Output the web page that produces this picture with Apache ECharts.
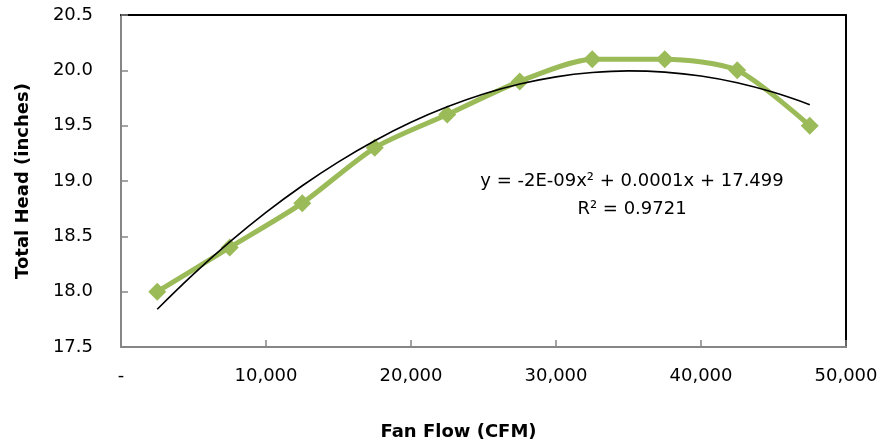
<!DOCTYPE html>
<html>
<head>
<meta charset="utf-8">
<script src="https://cdn.jsdelivr.net/npm/echarts@6/dist/echarts.min.js"></script>
<style>
html,body{margin:0;padding:0;background:#fff;}
#c{width:883px;height:447px;}
</style>
</head>
<body>
<div id="c"></div>
<script>
// Fan flow (CFM) and total head (inches)
var flowCFM = [2500, 7500, 12500, 17500, 22500, 27500, 32500, 37500, 42500, 47500];
var headInches = [18.0, 18.4, 18.8, 19.3, 19.6, 19.9, 20.1, 20.1, 20.0, 19.5];

// Polynomial trendline
var trendFlow = [2500, 5000, 7500, 10000, 12500, 15000, 17500, 20000, 22500, 25000,
                 27500, 30000, 32500, 35000, 37500, 40000, 42500, 45000, 47500];
var trendHead = [17.841, 18.158, 18.449, 18.716, 18.957, 19.173, 19.364, 19.530, 19.670, 19.786,
                 19.876, 19.941, 19.980, 19.995, 19.984, 19.949, 19.888, 19.801, 19.690];

var yTicks = ['17.5', '18.0', '18.5', '19.0', '19.5', '20.0', '20.5'];
var xTicks = ['-', '10,000', '20,000', '30,000', '40,000', '50,000'];
var eqText = 'y = -2E-09x\u00B2 + 0.0001x + 17.499';
var r2Text = 'R\u00B2 = 0.9721';

var FONT = 'DejaVu Sans';
var chart = echarts.init(document.getElementById('c'), null, {renderer: 'canvas'});

var dataPts = flowCFM.map(function (x, i) { return [x, headInches[i]]; });
var trendPts = trendFlow.map(function (x, i) { return [x, trendHead[i]]; });

var option = {
  animation: false,
  backgroundColor: '#fff',
  grid: {left: 121, right: 37, top: 15, bottom: 100, containLabel: false},
  xAxis: [{
    type: 'value', min: 0, max: 50000, interval: 10000,
    name: 'Fan Flow (CFM)', nameLocation: 'middle', nameGap: 76,
    nameTextStyle: {fontFamily: FONT, fontSize: 18, fontWeight: 'bold', color: '#000',
                    padding: [0, 50, 0, 0]},
    axisLine: {show: true, lineStyle: {color: '#868686', width: 2}},
    axisTick: {show: true, inside: true, length: 7, lineStyle: {color: '#868686', width: 1.5}},
    splitLine: {show: false},
    axisLabel: {
      margin: 20, fontFamily: FONT, fontSize: 18, color: '#000',
      showMinLabel: true, showMaxLabel: true,
      formatter: function (v) { return xTicks[Math.round(v / 10000)]; }
    }
  }, {
    type: 'value', min: 0, max: 50000, position: 'top',
    axisLine: {show: true, onZero: false, lineStyle: {color: '#000', width: 2}},
    axisTick: {show: false}, axisLabel: {show: false}, splitLine: {show: false}
  }],
  yAxis: [{
    type: 'value', min: 17.5, max: 20.5, interval: 0.5,
    name: 'Total Head (inches)', nameLocation: 'middle', nameGap: 89, nameRotate: 90,
    nameTextStyle: {fontFamily: FONT, fontSize: 18, fontWeight: 'bold', color: '#000'},
    axisLine: {show: true, lineStyle: {color: '#868686', width: 2}},
    axisTick: {show: true, inside: true, length: 7, lineStyle: {color: '#868686', width: 1.5}},
    splitLine: {show: false},
    axisLabel: {
      margin: 28, fontFamily: FONT, fontSize: 18, color: '#000',
      showMinLabel: true, showMaxLabel: true,
      formatter: function (v) { return yTicks[Math.round((v - 17.5) / 0.5)]; }
    }
  }, {
    type: 'value', min: 17.5, max: 20.5, position: 'right',
    axisLine: {show: true, onZero: false, lineStyle: {color: '#000', width: 2}},
    axisTick: {show: false}, axisLabel: {show: false}, splitLine: {show: false}
  }],
  series: [{
    type: 'line', data: dataPts, smooth: 0.25,
    symbol: 'diamond', symbolSize: 18,
    lineStyle: {color: '#9BBB59', width: 5},
    itemStyle: {color: '#9BBB59'},
    z: 2
  }, {
    type: 'line', data: trendPts, smooth: 0.4, symbol: 'none',
    lineStyle: {color: '#000', width: 1.6},
    z: 3
  }],
  graphic: [{
    type: 'text',
    style: {text: eqText, x: 632, y: 181, textAlign: 'center', textVerticalAlign: 'middle',
            font: '18px "' + FONT + '"', fill: '#000'}
  }, {
    type: 'text',
    style: {text: r2Text, x: 632, y: 209, textAlign: 'center', textVerticalAlign: 'middle',
            font: '18px "' + FONT + '"', fill: '#000'}
  }]
};
chart.setOption(option);
</script>
</body>
</html>
